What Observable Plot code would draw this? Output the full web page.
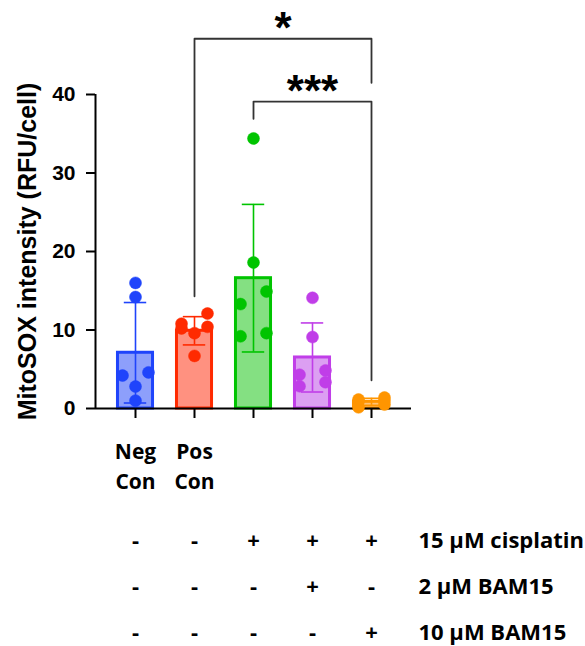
<!DOCTYPE html>
<html><head><meta charset="utf-8">
<script src="https://cdn.jsdelivr.net/npm/d3@7"></script>
<script src="https://cdn.jsdelivr.net/npm/@observablehq/plot@0.6"></script>
<style>
html,body{margin:0;padding:0;background:#fff;}
#chart svg{display:block;overflow:visible;}
</style></head><body><div id="chart"></div>
<script>
// ---- data ----
const groups = ["Neg Con", "Pos Con", "Cisplatin", "Cisplatin + 2 µM BAM15", "Cisplatin + 10 µM BAM15"];
const categoryLabels = ["Neg\nCon", "Pos\nCon", "", "", ""];
const means = [7.1, 9.9, 16.6, 6.5, 0.85];
const sds = [6.4, 1.8, 9.4, 4.4, 0.45];
const negConPoints = [16.0, 14.2, 4.6, 4.2, 2.8, 1.0];
const posConPoints = [12.1, 10.8, 10.4, 10.2, 9.6, 6.7];
const cisplatinPoints = [34.4, 18.6, 14.9, 13.3, 9.6, 9.2];
const cisBam2Points = [14.1, 9.1, 4.85, 4.3, 3.35, 2.85];
const cisBam10Points = [1.4, 1.15, 1.0, 0.9, 0.5, 0.15];
const yTicks = [0, 10, 20, 30, 40];
const yLabel = "MitoSOX intensity (RFU/cell)";
const treatments = ["15 µM cisplatin", "2 µM BAM15", "10 µM BAM15"];
const cisplatinSigns = ["-", "-", "+", "+", "+"];
const bam2Signs = ["-", "-", "-", "+", "-"];
const bam10Signs = ["-", "-", "-", "-", "+"];
const bracketFrom = [1, 2];
const bracketTo = [4, 4];
const bracketTop = [47.1, 39.1];
const bracketLeftEnd = [14.3, 36.9];
const bracketRightEnd = [41.5, 3.6];
const bracketLabels = ["*", "***"];

// ---- styles ----
const strokeColors = ["#1f44fb", "#ff2a00", "#00c400", "#c03ee8", "#ff9500"];
const fillColors = ["#8d9ffb", "#ff9180", "#84e082", "#dc9ff2", "#ffc070"];
const sansBold = "'Liberation Sans', Arial, Helvetica, sans-serif";
const tableFont = "'Open Sans', 'Liberation Sans', sans-serif";

// ---- derived tables ----
const allPoints = [negConPoints, posConPoints, cisplatinPoints, cisBam2Points, cisBam10Points];
const barData = groups.map((g, i) => ({i, group: g, mean: means[i], sd: sds[i], stroke: strokeColors[i], fill: fillColors[i]}));
const capData = barData.flatMap(d => [{...d, y: d.mean - d.sd}, {...d, y: d.mean + d.sd}]);

// deterministic scatter layout: pairs of close values are spread left/right
function lanes(values) {
  const order = d3.range(values.length).sort((a, b) => values[b] - values[a]);
  const off = new Array(values.length).fill(0);
  let row = [];
  const flush = () => { if (row.length === 2) { off[row[0]] = 1; off[row[1]] = -1; } row = []; };
  for (const k of order) {
    if (row.length && (row.length >= 2 || values[row[0]] - values[k] > 1.7)) flush();
    row.push(k);
  }
  flush();
  return off;
}
const pointData = allPoints.flatMap((vals, i) => {
  const l = lanes(vals);
  return vals.map((v, k) => ({i, value: v, lane: l[k], color: strokeColors[i]}));
});

const bracketPath = bracketFrom.flatMap((f, b) => [
  {id: b, x: f, y: bracketLeftEnd[b]},
  {id: b, x: f, y: bracketTop[b]},
  {id: b, x: bracketTo[b], y: bracketTop[b]},
  {id: b, x: bracketTo[b], y: bracketRightEnd[b]}
]);
const bracketText = bracketFrom.map((f, b) => ({x: (f + bracketTo[b]) / 2, y: bracketTop[b], label: bracketLabels[b]}));

const signRows = [cisplatinSigns, bam2Signs, bam10Signs];
const signData = signRows.flatMap((row, r) => row.map((s, i) => ({i, treatment: treatments[r], sign: s})));

const xMin = -0.678, xMax = 4.678;
const barHalf = 0.297, capHalf = 0.19, laneStep = 0.22;

const chart = Plot.plot({
  width: 585, height: 500,
  marginLeft: 95, marginRight: 174, marginTop: 94, marginBottom: 92,
  style: {fontFamily: sansBold, fontWeight: "bold", color: "black", background: "white", overflow: "visible"},
  x: {domain: [xMin, xMax]},
  y: {domain: [yTicks[0], yTicks[yTicks.length - 1]]},
  color: {type: "identity"},
  marks: [
    Plot.rect(barData, {x1: d => d.i - barHalf, x2: d => d.i + barHalf, y1: () => 0, y2: "mean", fill: "fill", stroke: "stroke", strokeWidth: 3}),
    Plot.ruleX(barData, {x: "i", y1: d => d.mean - d.sd, y2: d => d.mean + d.sd, stroke: "stroke", strokeWidth: 1.6}),
    Plot.ruleY(capData, {y: "y", x1: d => d.i - capHalf, x2: d => d.i + capHalf, stroke: "stroke", strokeWidth: 1.6}),
    Plot.ruleY([yTicks[0]], {stroke: "black", strokeWidth: 2}),
    Plot.ruleX([xMin], {y1: yTicks[0], y2: yTicks[yTicks.length - 1], stroke: "black", strokeWidth: 2}),
    Plot.axisY({ticks: yTicks, tickSize: 9, tickPadding: 11, label: null, fontSize: 21, fontWeight: "bold", fontFamily: sansBold, strokeWidth: 2}),
    Plot.axisX({ticks: d3.range(groups.length), tickSize: 10, tickFormat: () => "", label: null, strokeWidth: 2}),
    Plot.dot(pointData, {x: d => d.i + d.lane * laneStep, y: "value", r: 6, fill: "color", stroke: "color", strokeWidth: 0.5}),
    Plot.text(barData, {x: "i", text: d => categoryLabels[d.i], frameAnchor: "bottom", lineAnchor: "top", dy: 29, lineHeight: 1.43, fontSize: 21, fontFamily: tableFont, fontWeight: "bold", fill: "black"}),
    Plot.text([yLabel], {text: d => d, frameAnchor: "left", rotate: -90, dx: -68, textAnchor: "middle", lineAnchor: "middle", fontSize: 25, fontFamily: sansBold, fontWeight: "bold", fill: "black"}),
    Plot.line(bracketPath, {x: "x", y: "y", z: "id", stroke: "#333", strokeWidth: 1.8}),
    Plot.text(bracketText, {x: "x", y: "y", text: "label", lineAnchor: "bottom", dy: 4, fontSize: 44, fontFamily: sansBold, fontWeight: "bold", fill: "black"})
  ]
});

const table = Plot.plot({
  width: 585, height: 146,
  marginLeft: 95, marginRight: 174, marginTop: 0, marginBottom: 0,
  style: {fontFamily: tableFont, fontWeight: "bold", color: "black", background: "white", overflow: "visible"},
  x: {domain: [xMin, xMax], axis: null},
  y: {type: "point", domain: treatments, range: [40, 132], padding: 0, axis: null},
  marks: [
    Plot.text(signData, {x: "i", y: "treatment", text: "sign", fontSize: 22, fontFamily: tableFont, fontWeight: "bold", fill: "black", lineAnchor: "middle"}),
    Plot.text(treatments, {x: xMax, y: d => d, text: d => d, textAnchor: "start", dx: 7, fontSize: 22, fontFamily: tableFont, fontWeight: "bold", fill: "black", lineAnchor: "middle"})
  ]
});

document.getElementById("chart").append(chart, table);
</script>
</body></html>
